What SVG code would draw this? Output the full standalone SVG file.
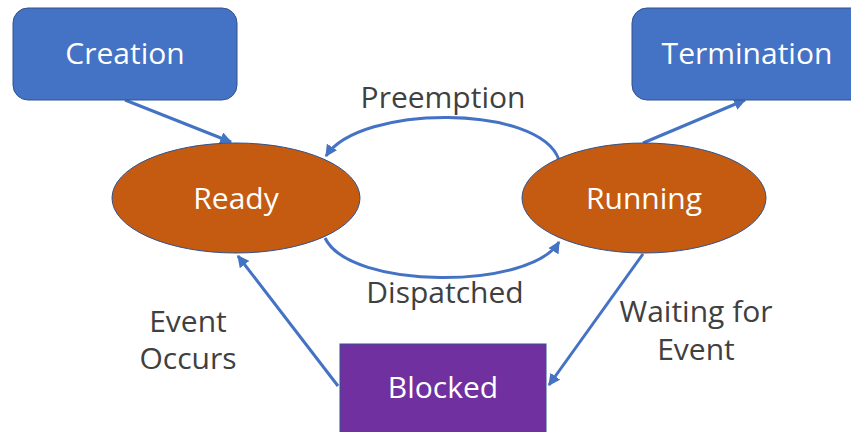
<svg xmlns="http://www.w3.org/2000/svg" width="851" height="432" viewBox="0 0 851 432">
  <style>
    .box { fill: #4472C4; stroke: #2F528F; stroke-width: 1; }
    .state { fill: #C55A11; stroke: #2F528F; stroke-width: 1; }
    .blocked { fill: #7030A0; stroke: #2F528F; stroke-width: 1; }
    .node-text { font-family: "Open Sans", "Noto Sans", sans-serif; font-size: 30px; fill: #ffffff; text-anchor: middle; }
    .label { font-family: "Open Sans", "Noto Sans", sans-serif; font-size: 30px; fill: #404040; text-anchor: middle; }
    .edge { fill: none; stroke: #4472C4; stroke-width: 3; marker-end: url(#arrow); }
  </style>
  <defs>
    <marker id="arrow" viewBox="0 0 10 10" refX="9" refY="5" markerWidth="4" markerHeight="4" orient="auto" markerUnits="strokeWidth">
      <path d="M0,0 L10,5 L0,10 z" fill="#4472C4"/>
    </marker>
  </defs>
  <rect width="851" height="432" fill="#ffffff"/>

  <!-- transitions between states -->
  <g id="connectors">
    <path class="edge" d="M125,100 L231,142"/>
    <path class="edge" d="M643,143 L745,100"/>
    <path class="edge" d="M559,160 C540,104 360,104 326,156"/>
    <path class="edge" d="M325,238 C350,290 530,290 559,242"/>
    <path class="edge" d="M338,386 L238,256"/>
    <path class="edge" d="M643,254 L549,385"/>
  </g>

  <g id="creation">
    <rect class="box" x="13" y="8" width="224" height="92" rx="15"/>
    <text class="node-text" x="125" y="64">Creation</text>
  </g>
  <g id="termination">
    <rect class="box" x="632" y="8" width="235" height="92" rx="15"/>
    <text class="node-text" x="747" y="64">Termination</text>
  </g>
  <g id="ready">
    <ellipse class="state" cx="236" cy="198" rx="124" ry="55"/>
    <text class="node-text" x="236" y="209">Ready</text>
  </g>
  <g id="running">
    <ellipse class="state" cx="644" cy="198" rx="122" ry="55"/>
    <text class="node-text" x="644" y="209">Running</text>
  </g>
  <g id="blocked">
    <rect class="blocked" x="340" y="344" width="206" height="100"/>
    <text class="node-text" x="443" y="398">Blocked</text>
  </g>

  <!-- transition labels -->
  <g id="labels">
    <text class="label" x="443" y="108">Preemption</text>
    <text class="label" x="445" y="303">Dispatched</text>
    <text class="label" x="188" y="332">Event</text>
    <text class="label" x="188" y="369">Occurs</text>
    <text class="label" x="696" y="322">Waiting for</text>
    <text class="label" x="696" y="360">Event</text>
  </g>
</svg>
